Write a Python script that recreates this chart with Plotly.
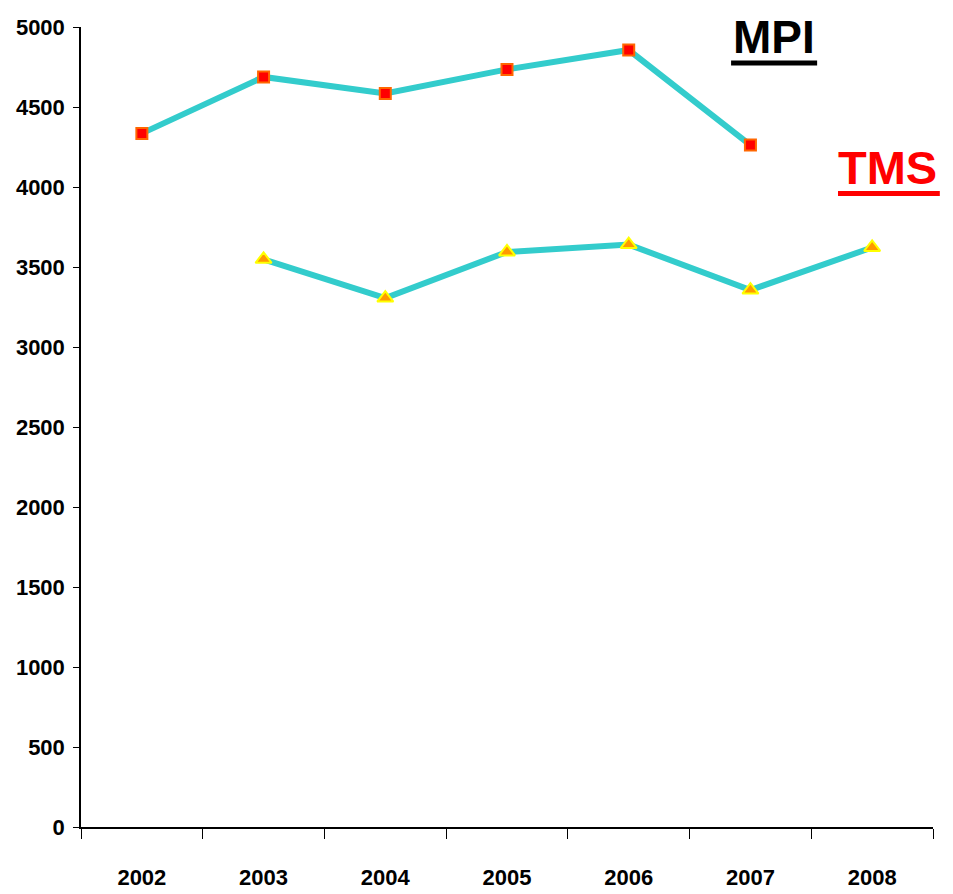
import plotly.graph_objects as go

years = ["2002", "2003", "2004", "2005", "2006", "2007", "2008"]
mpi = [4335, 4688, 4585, 4735, 4856, 4262, None]
tms = [None, 3548, 3306, 3594, 3640, 3356, 3622]
y_ticks = [0, 500, 1000, 1500, 2000, 2500, 3000, 3500, 4000, 4500, 5000]

LINE = "#33CCCC"
TICKFONT = dict(family="Liberation Sans, Arial, sans-serif",
                size=22, color="black", weight="bold")

fig = go.Figure()
fig.add_trace(go.Scatter(
    x=years, y=mpi, mode="lines+markers", name="MPI",
    line=dict(color=LINE, width=6),
    marker=dict(symbol="square", size=11, color="#FF0000",
                line=dict(color="#FF6600", width=2)),
    hoverinfo="skip",
))
fig.add_trace(go.Scatter(
    x=years, y=tms, mode="lines+markers", name="TMS",
    line=dict(color=LINE, width=6),
    marker=dict(symbol="triangle-up", size=14, color="#FF9900",
                line=dict(color="#FFFF00", width=2)),
    hoverinfo="skip",
))

fig.add_annotation(text="<b>MPI</b>", xref="paper", yref="paper",
                   x=0.813, y=0.9875, xanchor="center", yanchor="middle",
                   showarrow=False,
                   font=dict(family="Liberation Sans, Arial, sans-serif", size=46, color="black"))
fig.add_annotation(text="<b>TMS</b>", xref="paper", yref="paper",
                   x=0.947, y=0.824, xanchor="center", yanchor="middle",
                   showarrow=False,
                   font=dict(family="Liberation Sans, Arial, sans-serif", size=47, color="#FF0000"))
# thick underlines of the two labels
fig.add_shape(type="line", xref="paper", yref="paper",
              x0=0.763, x1=0.864, y0=0.955, y1=0.955,
              line=dict(color="black", width=5))
fig.add_shape(type="line", xref="paper", yref="paper",
              x0=0.8885, x1=1.008, y0=0.792, y1=0.792,
              line=dict(color="#FF0000", width=5))

# the page adds an 8px body margin, so the figure margins compensate for it
fig.update_layout(
    width=953, height=894,
    margin=dict(l=73, r=28, t=19, b=75),
    paper_bgcolor="white", plot_bgcolor="white",
    showlegend=False,
    xaxis=dict(
        type="category", range=[-0.5, 6.5], automargin=False,
        showline=True, linecolor="black", linewidth=1.5,
        ticks="outside", ticklen=10, tickcolor="black", tickwidth=1,
        tickson="boundaries", showgrid=False, zeroline=False,
        tickfont=TICKFONT, ticklabelstandoff=30,
    ),
    yaxis=dict(
        range=[0, 5000], tickvals=y_ticks, automargin=False,
        showline=True, linecolor="black", linewidth=1.5,
        ticks="outside", ticklen=6, tickcolor="black", tickwidth=1,
        showgrid=False, zeroline=False,
        tickfont=TICKFONT, ticklabelstandoff=4,
    ),
)

fig.write_html("out.html")
